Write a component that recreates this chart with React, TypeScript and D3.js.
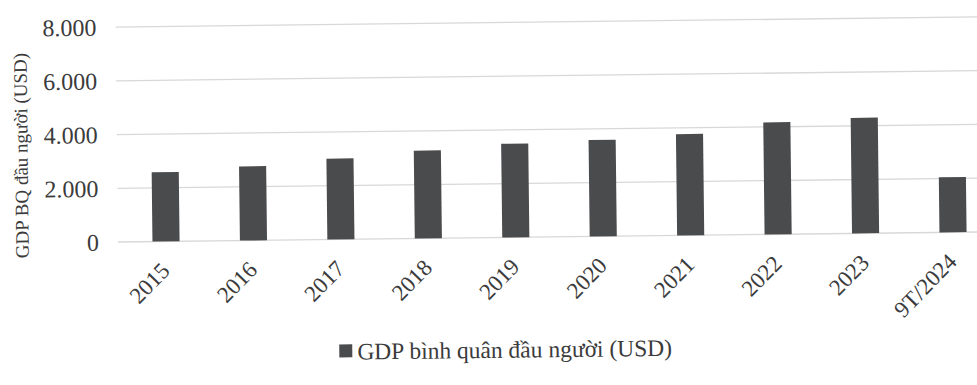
import React from "react";
import * as d3 from "d3";

const categories = ["2015", "2016", "2017", "2018", "2019", "2020", "2021", "2022", "2023", "9T/2024"];
const gdpValues = [2580, 2760, 3010, 3270, 3490, 3590, 3770, 4170, 4300, 2050];
const yTicks = [0, 2000, 4000, 6000, 8000];
const yTickLabels = ["0", "2.000", "4.000", "6.000", "8.000"];
const seriesName = "GDP bình quân đầu người (USD)";
const yTitle = "GDP BQ đầu người (USD)";

const W = 977;
const H = 385;
const FONT = "'Liberation Serif', 'DejaVu Serif', serif";
const TEXT = "#3b3b3b";
const BAR = "#4a4b4d";
const GRID = "#d8d8d8";

export default function App() {
  const y = d3.scaleLinear().domain([0, 8000]).range([242, 27]);
  const x = d3.scaleBand<string>().domain(categories).range([122.3, 996.8]).padding(0);
  const barW = x.bandwidth() * 0.31;
  const gridX0 = 118;
  const gridX1 = 990;

  return (
    <svg
      width={W}
      height={H}
      viewBox={`0 0 ${W} ${H}`}
      style={{ position: "absolute", left: 0, top: 0, background: "#fff" }}
    >
      <rect x={0} y={0} width={W} height={H} fill="#fff" />
      <g transform="rotate(-0.67 120 242)">
        {yTicks.map((t, i) => (
          <g key={t}>
            <line x1={gridX0} x2={gridX1} y1={y(t)} y2={y(t)} stroke={GRID} strokeWidth={1.3} />
            <text
              x={99}
              y={y(t)}
              dy="0.35em"
              textAnchor="end"
              fontFamily={FONT}
              fontSize={24}
              fill={TEXT}
            >
              {yTickLabels[i]}
            </text>
          </g>
        ))}
        {categories.map((c, i) => (
          <rect
            key={c}
            x={(x(c) as number) + x.bandwidth() / 2 - barW / 2}
            y={y(gdpValues[i])}
            width={barW}
            height={y(0) - y(gdpValues[i])}
            fill={BAR}
          />
        ))}
        {categories.map((c) => {
          const cx = (x(c) as number) + x.bandwidth() / 2 - 1;
          const cy = 267;
          return (
            <text
              key={c}
              transform={`translate(${cx},${cy}) rotate(-45)`}
              textAnchor="end"
              dy="0.35em"
              fontFamily={FONT}
              fontSize={23}
              fill={TEXT}
            >
              {c}
            </text>
          );
        })}
        <text
          transform={`translate(22,${y(4000) + 20}) rotate(-90)`}
          textAnchor="middle"
          dy="0.35em"
          fontFamily={FONT}
          fontSize={19}
          fill={TEXT}
        >
          {yTitle}
        </text>
        <rect x={338} y={347} width={13} height={13} fill={BAR} />
        <text x={356} y={354} dy="0.35em" fontFamily={FONT} fontSize={23.5} fill={TEXT}>
          {seriesName}
        </text>
      </g>
    </svg>
  );
}
